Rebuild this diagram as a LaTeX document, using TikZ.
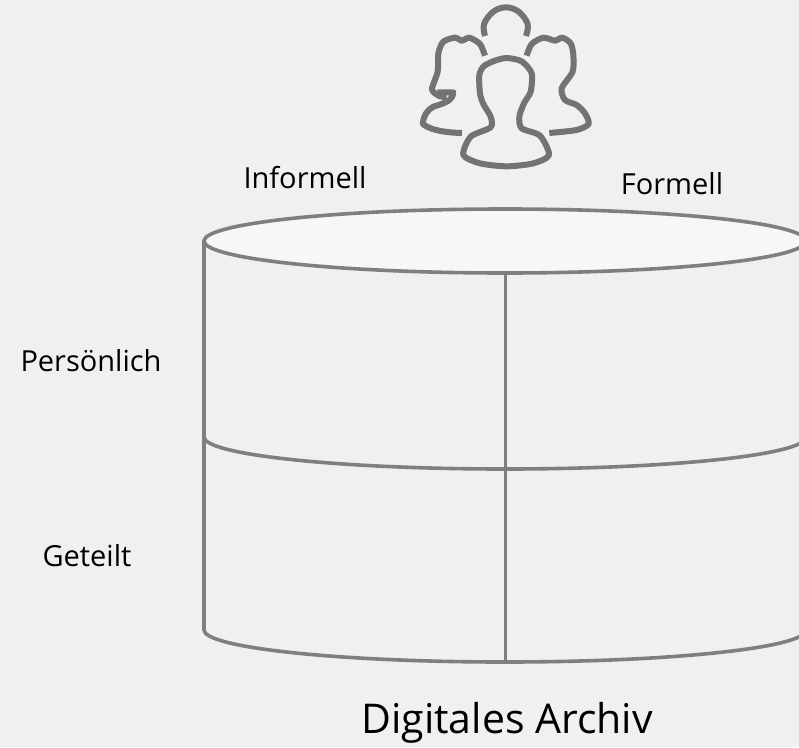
\documentclass[tikz,border=0pt]{standalone}
\usepackage{fontspec}
\setmainfont{Open Sans}
\begin{document}
\begin{tikzpicture}[x=1pt,y=-1pt,
  cyl/.style={draw=cylgray,line width=3.6pt},
  icon/.style={draw=icongray,line width=6pt,line join=round,line cap=butt},
  lab/.style={font=\fontsize{29}{34}\selectfont,text=black,inner sep=0pt,anchor=center},
  title/.style={font=\fontsize{41}{48}\selectfont,text=black,inner sep=0pt,anchor=center}]
\definecolor{cylgray}{HTML}{7F7F7F}
\definecolor{icongray}{HTML}{737373}
\definecolor{bg}{HTML}{F0F0F0}
\definecolor{topfill}{HTML}{F7F7F7}
\useasboundingbox (0,0) rectangle (799,747);
\clip (0,0) rectangle (799,747);
\fill[bg] (0,0) rectangle (799,747);
% cylinder
\draw[cyl,line join=round] (204,241) -- (204,630) arc[start angle=180,end angle=0,x radius=301,y radius=32];
\draw[cyl] (204,437) arc[start angle=180,end angle=0,x radius=301,y radius=32];
\draw[cyl] (505.5,273) -- (505.5,662);
\draw[cyl,fill=topfill] (505,241) ellipse[x radius=301,y radius=32];
% people icon
\begin{scope}[shift={(400,0)},x=0.3333pt,y=-0.3333pt]
\draw[icon] plot[smooth,tension=0.6] coordinates {(255,108) (252,72) (280,35) (318,22) (356,35) (383,72) (378,108)};
\draw[icon] plot[smooth,tension=0.45] coordinates {(255,167) (240,132) (208,113) (186,122) (165,113) (130,125) (115,160) (113,215) (96,268) (118,288) (140,291)};
\draw[icon] (112,277) -- (160,277) .. controls (158,300) and (140,308) .. (100,320) .. controls (80,330) and (70,350) .. (68,372) .. controls (95,392) and (140,398) .. (186,399);
\draw[icon] plot[smooth,tension=0.45] coordinates {(380,167) (395,132) (430,113) (465,122) (487,113) (512,130) (520,165) (518,215) (485,265) (495,300) (530,315) (555,340) (566,372) (530,390) (448,399)};
\draw[icon] plot[smooth cycle,tension=0.45] coordinates {(285,182) (320,174) (365,184) (395,220) (392,275) (372,310) (358,350) (365,385) (420,407) (447,465) (400,490) (320,499) (240,490) (190,465) (212,410) (272,382) (272,350) (250,312) (240,280) (238,225) (252,198)};
\end{scope}
% labels
\node[lab] (informell) at (305,178) {Informell};
\node[lab] (formell) at (672,184) {Formell};
\node[lab] (persoenlich) at (91,361) {Persönlich};
\node[lab] (geteilt) at (87,556) {Geteilt};
\node[title] (archiv) at (507,723) {Digitales Archiv};
\end{tikzpicture}
\end{document}
